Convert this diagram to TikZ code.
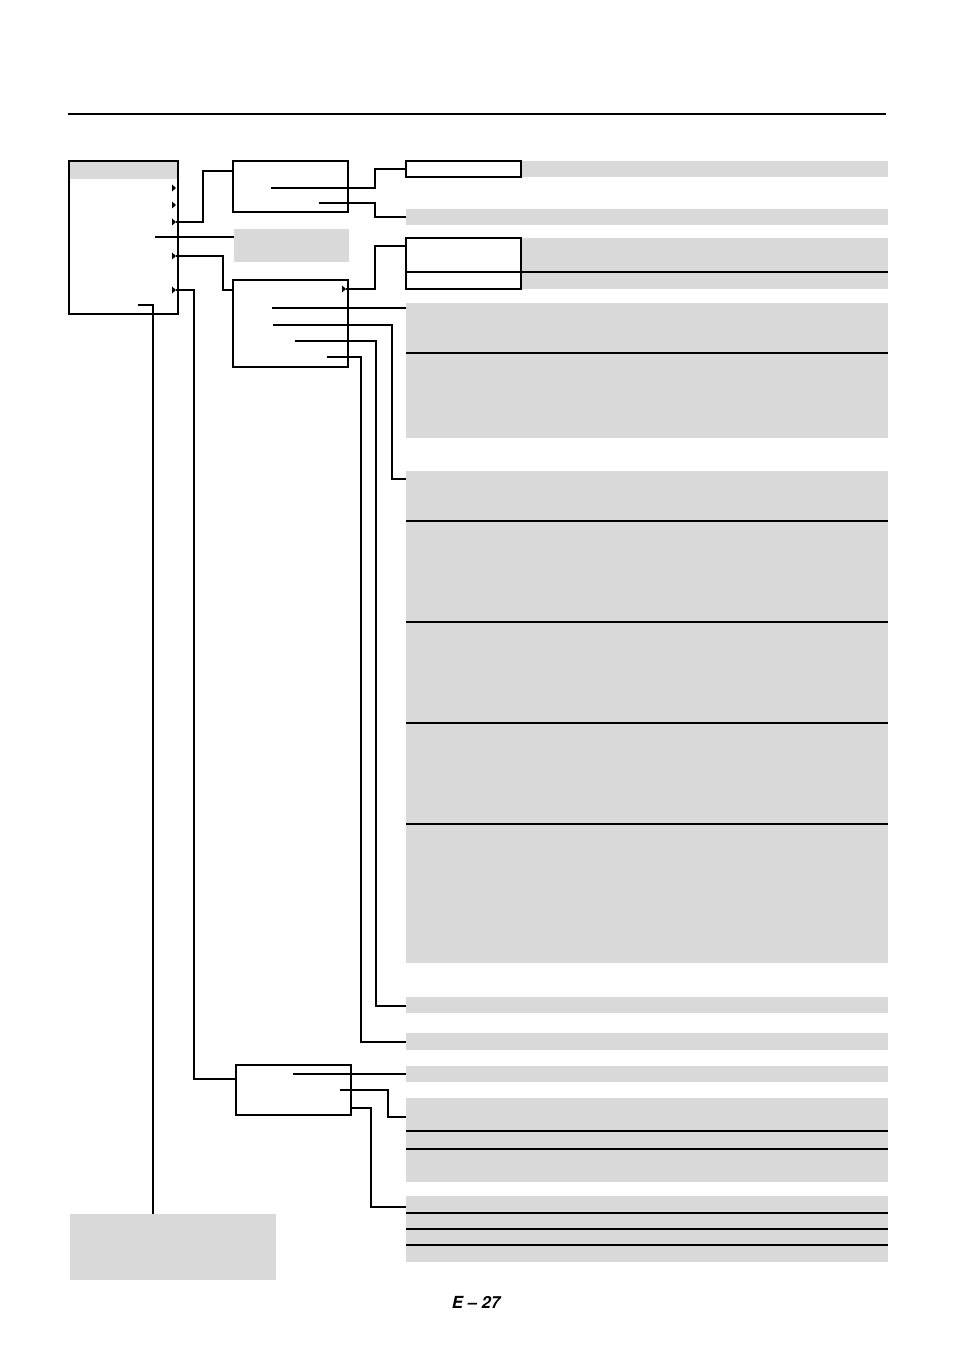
\documentclass[tikz,border=0pt]{standalone}
\usepackage{fontspec}
\setmainfont{TeX Gyre Heros}
\definecolor{grayc}{HTML}{D9D9D9}
\newcommand\RB[6]{\node[#1, minimum width={(#5-#3)*0.75pt}, minimum height={(#6-#4)*0.75pt}] (#2) at (#3,#4) {};}
\begin{document}
\begin{tikzpicture}[x=0.75pt,y=-0.75pt,line width=0.8pt,
  wbox/.style={draw, inner sep=0pt, outer sep=0pt, anchor=north west},
  wfbox/.style={draw, fill=white, inner sep=0pt, outer sep=0pt, anchor=north west},
  gbox/.style={fill=grayc, inner sep=0pt, outer sep=0pt, anchor=north west},
  conn/.style={draw, line width=0.8pt},
  divl/.style={draw, line width=0.8pt},
  tri/.style={fill=black, draw=none}]
\useasboundingbox (0,0) rectangle (954,1351);
% top rule
\coordinate (r1) at (68,114);
\coordinate (r2) at (886,114);
\draw[line width=0.9pt] (r1) -- (r2);
% main box
\RB{gbox}{hdr}{69}{161}{178}{179}
\RB{wbox}{main}{69}{161}{178}{314}
% second level boxes
\RB{wbox}{bxa}{233}{161}{348}{212}
\RB{gbox}{gmid}{234}{229}{349}{262}
\RB{wbox}{bxb}{233}{280}{348}{367}
\RB{wbox}{bxc}{236}{1065}{351}{1115}
\RB{gbox}{gleft}{70}{1214}{276}{1280}
% right column
\RB{gbox}{g1}{406}{161}{888}{177}
\RB{wfbox}{w1}{406}{161}{521}{177}
\RB{gbox}{g2}{406}{209}{888}{225}
\RB{gbox}{g3}{406}{238}{888}{289}
\RB{wfbox}{w3}{406}{238}{521}{289}
\RB{gbox}{gA}{406}{303}{888}{438}
\RB{gbox}{gB}{406}{471}{888}{963}
\RB{gbox}{g4}{406}{997}{888}{1013}
\RB{gbox}{g5}{406}{1033}{888}{1050}
\RB{gbox}{g6}{406}{1066}{888}{1082}
\RB{gbox}{gC}{406}{1098}{888}{1182}
\RB{gbox}{gD}{406}{1196}{888}{1262}
% dividers
\foreach \yy in {272} {\draw[divl] (406,\yy) -- (888,\yy);}
\foreach \yy in {353} {\draw[divl] (406,\yy) -- (888,\yy);}
\foreach \yy in {521,622,723,824} {\draw[divl] (406,\yy) -- (888,\yy);}
\foreach \yy in {1131,1149} {\draw[divl] (406,\yy) -- (888,\yy);}
\foreach \yy in {1213,1229,1245} {\draw[divl] (406,\yy) -- (888,\yy);}
% arrow markers in main box
\foreach \yy/\nm in {188/a1,205/a2,222/a3,256/a4,290/a5} {
  \fill[tri] (172,\yy-3.5) -- (176,\yy) -- (172,\yy+3.5) -- cycle;
  \coordinate (\nm) at (176,\yy);
}
\fill[tri] (342,285.5) -- (346,289) -- (342,292.5) -- cycle;
\coordinate (b3a) at (346,289);
% connector coordinates
\coordinate (k3) at (203,171);
\coordinate (e2) at (233,171);
\coordinate (m1) at (155,237);
\coordinate (gmw) at (234,237);
\coordinate (k4) at (223,290);
\coordinate (e3) at (233,290);
\coordinate (k5) at (194,1079);
\coordinate (e4) at (236,1079);
\coordinate (m2) at (138,305);
\coordinate (k6) at (153,1214);
% box a
\coordinate (s1) at (271,188);
\coordinate (q1) at (375,169);
\coordinate (f1) at (406,169);
\coordinate (s2) at (319,203);
\coordinate (q2) at (375,217);
\coordinate (f2) at (406,217);
% box b
\coordinate (q3) at (375,246);
\coordinate (f3) at (406,246);
\coordinate (s4) at (272,308);
\coordinate (f4) at (406,308);
\coordinate (s5) at (273,325);
\coordinate (q5) at (392,479);
\coordinate (f5) at (406,479);
\coordinate (s6) at (295,341);
\coordinate (q6) at (376,1006);
\coordinate (f6) at (406,1006);
\coordinate (s7) at (327,357);
\coordinate (q7) at (361,1042);
\coordinate (f7) at (406,1042);
% box c
\coordinate (s8) at (293,1074);
\coordinate (f8) at (406,1074);
\coordinate (s9) at (340,1090);
\coordinate (q9) at (388,1117);
\coordinate (f9) at (406,1117);
\coordinate (s10) at (351,1108);
\coordinate (q10) at (371,1207);
\coordinate (f10) at (406,1207);
% connectors
\draw[conn] (a3) -| (k3) -- (e2);
\draw[conn] (m1) -- (gmw);
\draw[conn] (a4) -| (k4) -- (e3);
\draw[conn] (a5) -| (k5) -- (e4);
\draw[conn] (m2) -| (k6);
\draw[conn] (s1) -| (q1) -- (f1);
\draw[conn] (s2) -| (q2) -- (f2);
\draw[conn] (b3a) -| (q3) -- (f3);
\draw[conn] (s4) -- (f4);
\draw[conn] (s5) -| (q5) -- (f5);
\draw[conn] (s6) -| (q6) -- (f6);
\draw[conn] (s7) -| (q7) -- (f7);
\draw[conn] (s8) -- (f8);
\draw[conn] (s9) -| (q9) -- (f9);
\draw[conn] (s10) -| (q10) -- (f10);
% page number
\node[font=\fontsize{12.5}{15}\selectfont\bfseries\itshape, inner sep=0pt] (pg) at (476,1302) {E – 27};
\end{tikzpicture}
\end{document}
